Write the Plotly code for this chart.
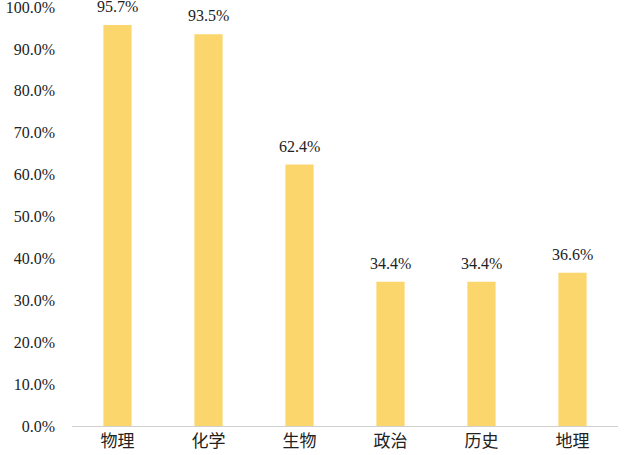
import plotly.graph_objects as go

subjects = ["物理", "化学", "生物", "政治", "历史", "地理"]
rates = [0.957, 0.935, 0.624, 0.344, 0.344, 0.366]
rate_labels = ["95.7%", "93.5%", "62.4%", "34.4%", "34.4%", "36.6%"]
y_ticks = [i / 10 for i in range(11)]
y_tick_labels = [f"{i * 10}.0%" for i in range(11)]

fig = go.Figure(go.Bar(
    x=subjects, y=rates,
    marker=dict(color="#FBD66C", line=dict(width=0)),
    cliponaxis=False,
))

# value labels sit a bit higher above the bars than plotly's outside text
for s, r, t in zip(subjects, rates, rate_labels):
    fig.add_annotation(x=s, y=r, text=t, showarrow=False, yanchor="bottom",
                       yshift=8, font=dict(family="Liberation Serif", size=16, color="#222222"))

fig.update_layout(
    width=628, height=455,
    margin=dict(l=72, r=10, t=7, b=29),
    plot_bgcolor="white", paper_bgcolor="white",
    bargap=0.69, showlegend=False,
    xaxis=dict(showline=True, linecolor="#d0d0d0", linewidth=1,
               tickfont=dict(family="Noto Sans CJK SC", size=17, color="#222222"),
               ticks="", automargin=False, ticklabelstandoff=0,
               ticklabeloverflow="allow"),
    yaxis=dict(range=[0, 1.0], tickvals=y_ticks, ticktext=y_tick_labels,
               showgrid=False, zeroline=False, ticks="", automargin=False,
               ticklabelstandoff=16, ticklabeloverflow="allow",
               tickfont=dict(family="Liberation Serif", size=16, color="#222222")),
)

# drop the default 8px page margin so the figure fills the window
fig.write_html("out.html", config={"displayModeBar": False},
               post_script="document.body.style.margin='0';")
